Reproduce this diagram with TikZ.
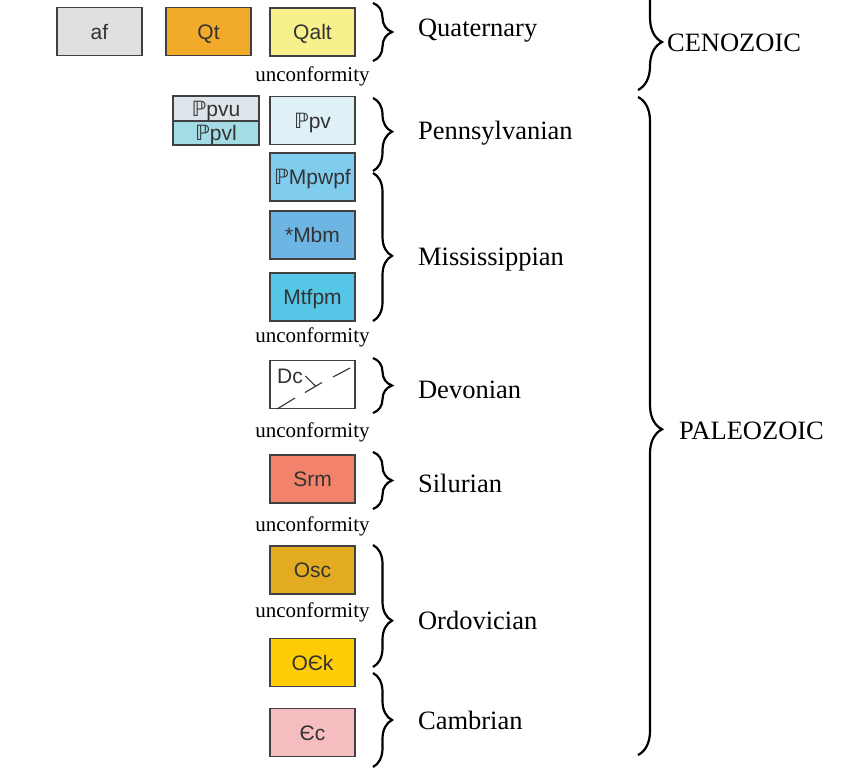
\documentclass[tikz,border=0pt]{standalone}
\usepackage{fontspec}
\setmainfont{Liberation Serif}
\setsansfont{Liberation Sans}
\newfontfamily\symfont{DejaVu Sans}
\usetikzlibrary{decorations.pathreplacing}

\definecolor{afgray}{HTML}{E0E0E0}
\definecolor{qtorange}{HTML}{F2AA2A}
\definecolor{qaltyellow}{HTML}{F7F08C}
\definecolor{ppvugray}{HTML}{DDE5EB}
\definecolor{ppvlcyan}{HTML}{A3DCE4}
\definecolor{ppvblue}{HTML}{DFF0F7}
\definecolor{pmblue}{HTML}{80CCEF}
\definecolor{mbmblue}{HTML}{6DB5E3}
\definecolor{mtfcyan}{HTML}{55C6E6}
\definecolor{srmsalmon}{HTML}{F2836A}
\definecolor{oscgold}{HTML}{E2AB22}
\definecolor{ockyellow}{HTML}{FFCD05}
\definecolor{ccpink}{HTML}{F6BDC0}
\newcommand{\Penn}{{\symfont ℙ}}

\begin{document}
\begin{tikzpicture}[x=1pt, y=-1pt,
  unit/.style={draw=black!75, line width=1.1pt, minimum width=85pt, minimum height=48pt, inner sep=0pt, text height=15pt, text depth=0pt, text=black!80, font=\sffamily\fontsize{21}{25}\selectfont},
  uncon/.style={inner sep=0pt, font=\fontsize{21}{24}\selectfont},
  period/.style={anchor=base west, inner sep=0pt, font=\fontsize{26.5}{30}\selectfont},
  epoch brace/.style={decorate, decoration={brace, amplitude=19pt}, line width=2.2pt},
  era brace/.style={decorate, decoration={brace, amplitude=24pt}, line width=2.2pt}]
  \useasboundingbox (0,0) rectangle (842,772);

  % Quaternary
  \node[unit, fill=afgray] (af) at (99.5,31.5) {af};
  \node[unit, fill=qtorange] (qt) at (208.5,31.5) {Qt};
  \node[unit, fill=qaltyellow] (qalt) at (312.5,32) {Qalt};
  \node[uncon] (unc1) at (312.5,76) {unconformity};

  % Pennsylvanian and Mississippian
  \node[unit, fill=ppvugray, minimum height=25pt, minimum width=86pt] (ppvu) at (216,108.5) {\Penn pvu};
  \node[unit, fill=ppvlcyan, minimum height=24pt, minimum width=86pt] (ppvl) at (216,133) {\Penn pvl};
  \node[unit, fill=ppvblue] (ppv) at (312.5,120.5) {\Penn pv};
  \node[unit, fill=pmblue] (pmpwpf) at (312.5,177) {\Penn Mpwpf};
  \node[unit, fill=mbmblue] (mbm) at (312.5,235) {*Mbm};
  \node[unit, fill=mtfcyan] (mtfpm) at (312.5,297) {Mtfpm};
  \node[uncon] (unc2) at (312.5,337) {unconformity};

  % Devonian
  \node[unit, fill=white] (dc) at (312.5,384.5) {};
  \node[unit, draw=none, minimum width=0pt, minimum height=0pt] (dctext) at (290,376) {Dc};
  \draw[line width=1.1pt, black!80] (277,409) -- (295,398) (305,392.5) -- (322,382.5) (333,377) -- (350,368);
  \draw[line width=1.1pt, black!80] ([xshift=2pt]dctext.east) -- (316,386.5);
  \node[uncon] (unc3) at (312.5,432) {unconformity};

  % Silurian to Cambrian
  \node[unit, fill=srmsalmon] (srm) at (312.5,479) {Srm};
  \node[uncon] (unc4) at (312.5,526) {unconformity};
  \node[unit, fill=oscgold] (osc) at (312.5,570) {Osc};
  \node[uncon] (unc5) at (312.5,612) {unconformity};
  \node[unit, fill=ockyellow] (ock) at (312.5,662.5) {OЄk};
  \node[unit, fill=ccpink] (cc) at (312.5,732.5) {Єc};

  % periods
  \draw[epoch brace] (373,3) -- (373,61) node[pos=0.5, xshift=44pt, yshift=-4pt, period] {Quaternary};
  \draw[epoch brace, decoration={aspect=0.46}] (373,98) -- (373,171) node[pos=0.46, xshift=44pt, yshift=-8pt, period] {Pennsylvanian};
  \draw[epoch brace, decoration={aspect=0.56}] (373,173) -- (373,321) node[pos=0.56, xshift=44pt, yshift=-10pt, period] {Mississippian};
  \draw[epoch brace] (373,358) -- (373,413) node[pos=0.5, xshift=44pt, yshift=-13pt, period] {Devonian};
  \draw[epoch brace] (373,452) -- (373,509) node[pos=0.5, xshift=44pt, yshift=-12pt, period] {Silurian};
  \draw[epoch brace, decoration={aspect=0.62}] (373,545) -- (373,667) node[pos=0.62, xshift=44pt, yshift=-9pt, period] {Ordovician};
  \draw[epoch brace] (373,673) -- (373,767) node[pos=0.5, xshift=44pt, yshift=-9pt, period] {Cambrian};

  % eras
  \draw[era brace, decoration={aspect=0.6}] (638,-30) -- (638,90) node[pos=0.6, xshift=28pt, yshift=-9pt, period] {CENOZOIC};
  \draw[era brace, decoration={aspect=0.505}] (638,97) -- (638,755) node[pos=0.505, xshift=40pt, yshift=-10pt, period] {PALEOZOIC};
\end{tikzpicture}
\end{document}
